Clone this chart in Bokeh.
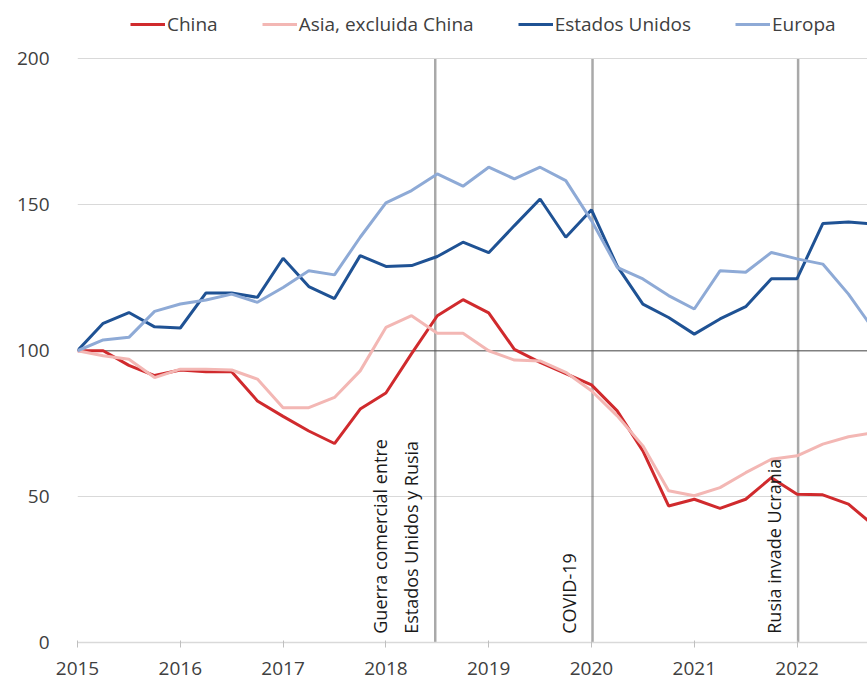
from math import pi
from bokeh.plotting import figure
from bokeh.models import Legend, LegendItem, Span, FixedTicker, ColumnDataSource
from bokeh.core.properties import value
from bokeh.embed import file_html
from bokeh.resources import INLINE

# ---- data (quarterly index, 2015 = 100) ----
quarters = [2015.0, 2015.25, 2015.5, 2015.75, 2016.0, 2016.25, 2016.5, 2016.75,
            2017.0, 2017.25, 2017.5, 2017.75, 2018.0, 2018.25, 2018.5, 2018.75,
            2019.0, 2019.25, 2019.5, 2019.75, 2020.0, 2020.25, 2020.5, 2020.75,
            2021.0, 2021.25, 2021.5, 2021.75, 2022.0, 2022.25, 2022.5, 2022.75]
china = [100, 100, 95, 91.5, 93.4, 92.8, 92.8, 82.8,
         77.5, 72.5, 68.2, 80, 85.5, 99, 112, 117.5,
         113, 100.5, 96, 92.2, 88.3, 79.4, 65.7, 46.8,
         49.1, 46, 49.1, 56.5, 50.8, 50.6, 47.4, 40]
asia = [100, 98.3, 97.1, 90.8, 93.7, 93.7, 93.4, 90.3,
        80.5, 80.5, 84, 93.1, 108, 112, 106, 106,
        100, 96.8, 96.5, 92.6, 86.3, 77.7, 67.4, 52,
        50.3, 53.1, 58.2, 62.8, 64, 68, 70.5, 72]
usa = [100, 109.4, 113.1, 108.2, 107.8, 119.8, 119.8, 118.3,
       131.7, 122, 117.9, 132.6, 128.9, 129.2, 132.3, 137.2,
       133.6, 142.9, 152, 138.9, 148.3, 129, 116, 111.4,
       105.7, 110.9, 115.1, 124.7, 124.7, 143.6, 144.1, 143.4]
europe = [100, 103.7, 104.6, 113.5, 116, 117.4, 119.4, 116.6,
          121.7, 127.4, 126, 138.9, 150.7, 154.9, 160.6, 156.4,
          162.9, 158.9, 162.9, 158.3, 144.6, 128.6, 124.6, 118.9,
          114.3, 127.4, 126.9, 133.7, 131.5, 129.7, 119.4, 107]

series_names = ["China", "Asia, excluida China", "Estados Unidos", "Europa"]
series_values = [china, asia, usa, europe]
series_colors = ["#d02a2d", "#f3b7b4", "#1f5294", "#8eaad6"]

year_ticks = [2015, 2016, 2017, 2018, 2019, 2020, 2021, 2022]
y_ticks = [0, 50, 100, 150, 200]
baseline = 100

event_x = [2018.48, 2020.01, 2022.01]
event_labels = ["Guerra comercial entre\nEstados Unidos y Rusia", "COVID-19", "Rusia invade Ucrania"]
event_label_y = [3, 3, 3]

FONT = "Open Sans"
TXT = "#404040"

# frame spans the full height so that the legend can sit in it above the 200 line
p = figure(width=867, height=679, x_range=(2015, 2022.685), y_range=(0, 220.05),
           output_backend="svg", toolbar_location=None,
           min_border_left=77, min_border_right=0, min_border_top=0, min_border_bottom=37)
p.outline_line_color = None
p.background_fill_color = "white"
p.border_fill_color = "white"

p.xgrid.grid_line_color = None
p.ygrid.grid_line_color = "#d9d9d9"
p.ygrid.grid_line_width = 1
p.ygrid.ticker = FixedTicker(ticks=y_ticks)

# y axis
p.yaxis.ticker = FixedTicker(ticks=y_ticks)
p.yaxis.axis_line_color = None
p.yaxis.major_tick_line_color = None
p.yaxis.minor_tick_line_color = None
p.yaxis.major_label_standoff = 22
p.yaxis.major_label_text_font = FONT
p.yaxis.major_label_text_font_size = "19px"
p.yaxis.major_label_text_color = TXT

# x axis
p.xaxis.ticker = FixedTicker(ticks=year_ticks)
p.xaxis.axis_line_color = "#d9d9d9"
p.xaxis.axis_line_width = 1.5
p.xaxis.major_tick_line_color = "#bfbfbf"
p.xaxis.major_tick_in = 2
p.xaxis.major_tick_out = 5
p.xaxis.minor_tick_line_color = None
p.xaxis.major_label_standoff = 14
p.xaxis.major_label_text_font = FONT
p.xaxis.major_label_text_font_size = "19px"
p.xaxis.major_label_text_color = TXT

# baseline at 100
p.add_layout(Span(location=baseline, dimension="width", line_color="#808080",
                  line_width=1.5, level="underlay"))

# event lines (dotted), from 0 to 200
n_ev = len(event_x)
p.segment(x0=event_x, y0=[y_ticks[0]] * n_ev, x1=event_x, y1=[y_ticks[-1]] * n_ev,
          line_color="#555555", line_width=2.5, line_dash="1 1")

# series
renderers = []
for name, vals, col in zip(series_names, series_values, series_colors):
    r = p.line(quarters, vals, line_color=col, line_width=3)
    renderers.append(r)

# event labels
src = ColumnDataSource(dict(x=event_x, y=event_label_y, t=event_labels))
p.text(x="x", y="y", text="t", source=src, angle=pi / 2, x_offset=-12,
       text_align="left", text_baseline="bottom", text_line_height=1.3,
       text_font=value(FONT), text_font_size="18px", text_color="#1a1a1a")

legend = Legend(items=[LegendItem(label=n, renderers=[r]) for n, r in zip(series_names, renderers)],
                location=(53, 605), orientation="horizontal",
                glyph_width=35, glyph_height=20, label_height=20, label_standoff=2, spacing=44,
                padding=0, margin=0, border_line_color=None, background_fill_alpha=0,
                label_text_font=FONT, label_text_font_size="19px", label_text_color=TXT)
p.add_layout(legend)

open("out.html", "w").write(file_html(p, INLINE))
